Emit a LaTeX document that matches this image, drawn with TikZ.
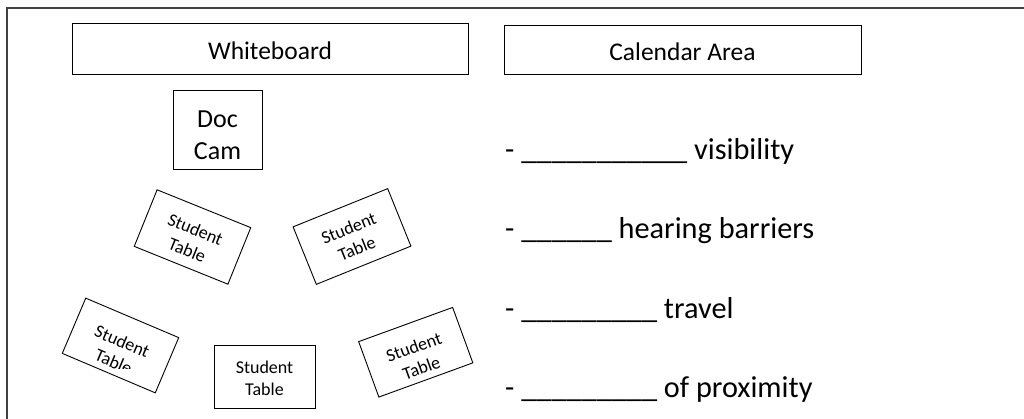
\documentclass[tikz,border=0pt]{standalone}
\usepackage{fontspec}
\setmainfont{Carlito}
\begin{document}
\begin{tikzpicture}[x=1pt,y=-1pt,
  box/.style={draw=black, line width=0.9pt, inner sep=0pt},
  boardlabel/.style={font=\fontsize{25.5}{31}\selectfont, text height=23pt, text depth=0pt},
  tablebox/.style={draw=black, line width=0.9pt, inner sep=0pt,
    minimum width=101pt, minimum height=61pt},
  tabletext/.style={font=\fontsize{18}{22}\selectfont, align=center, inner sep=0pt},
  noteline/.style={font=\fontsize{30.3}{37}\selectfont, anchor=base west, inner sep=0pt}]
\useasboundingbox (0,0) rectangle (1024,419);

% room outline (runs off the page to the right and bottom)
\coordinate (fbl) at (6.5,425);
\coordinate (ftl) at (6.5,8.5);
\coordinate (ftr) at (1030,8.5);
\draw[black!75, line width=2pt] (fbl) -- (ftl) -- (ftr);

% front of the room
\node[box, boardlabel, minimum width=396pt, minimum height=51pt] (wb) at (270,48.5) {Whiteboard};
\node[box, boardlabel, minimum width=357pt, minimum height=49pt] (cal) at (682.5,49.5) {Calendar Area};

% document camera
\node[box, minimum width=89pt, minimum height=79pt] (doc) at (217.5,129.5) {};
\node[font=\fontsize{26}{32}\selectfont, align=center, inner sep=0pt, anchor=south] (doclbl) at (217.5,160) {Doc\\Cam};

% student tables
\node[tablebox, rotate=-22] (t1) at (192.5,237) {};
\node[tabletext, rotate=-22, yshift=-3pt] (t1l) at (t1) {Student\\Table};

\node[tablebox, rotate=22, minimum width=102pt, minimum height=62pt] (t2) at (352,236.5) {};
\node[tabletext, rotate=22, yshift=-2pt] (t2l) at (t2) {Student\\Table};

\node[tablebox, rotate=-23, minimum height=60pt] (t3) at (120.5,345.5) {};
\begin{scope}
  \clip (0,0) rectangle (512,368);
  \node[tabletext, rotate=-23, yshift=-6.5pt] (t3l) at (t3) {Student\\Table};
\end{scope}

\node[tablebox, minimum height=63pt] (t4) at (264.5,376.5) {};
\node[tabletext, yshift=-2pt] (t4l) at (t4) {Student\\Table};

\node[tablebox, rotate=20, minimum width=100pt, minimum height=59pt] (t5) at (415.75,352.25) {};
\node[tabletext, rotate=20, yshift=-5.5pt] (t5l) at (t5) {Student\\Table};

% fill-in notes
\node[noteline] (n1) at (505,160) {- \_\_\_\_\_\_\_\_\_\_\_ visibility};
\node[noteline] (n2) at (505,239) {- \_\_\_\_\_\_ hearing barriers};
\node[noteline] (n3) at (505,318) {- \_\_\_\_\_\_\_\_\_ travel};
\node[noteline] (n4) at (505,397) {- \_\_\_\_\_\_\_\_\_ of proximity};
\end{tikzpicture}
\end{document}
